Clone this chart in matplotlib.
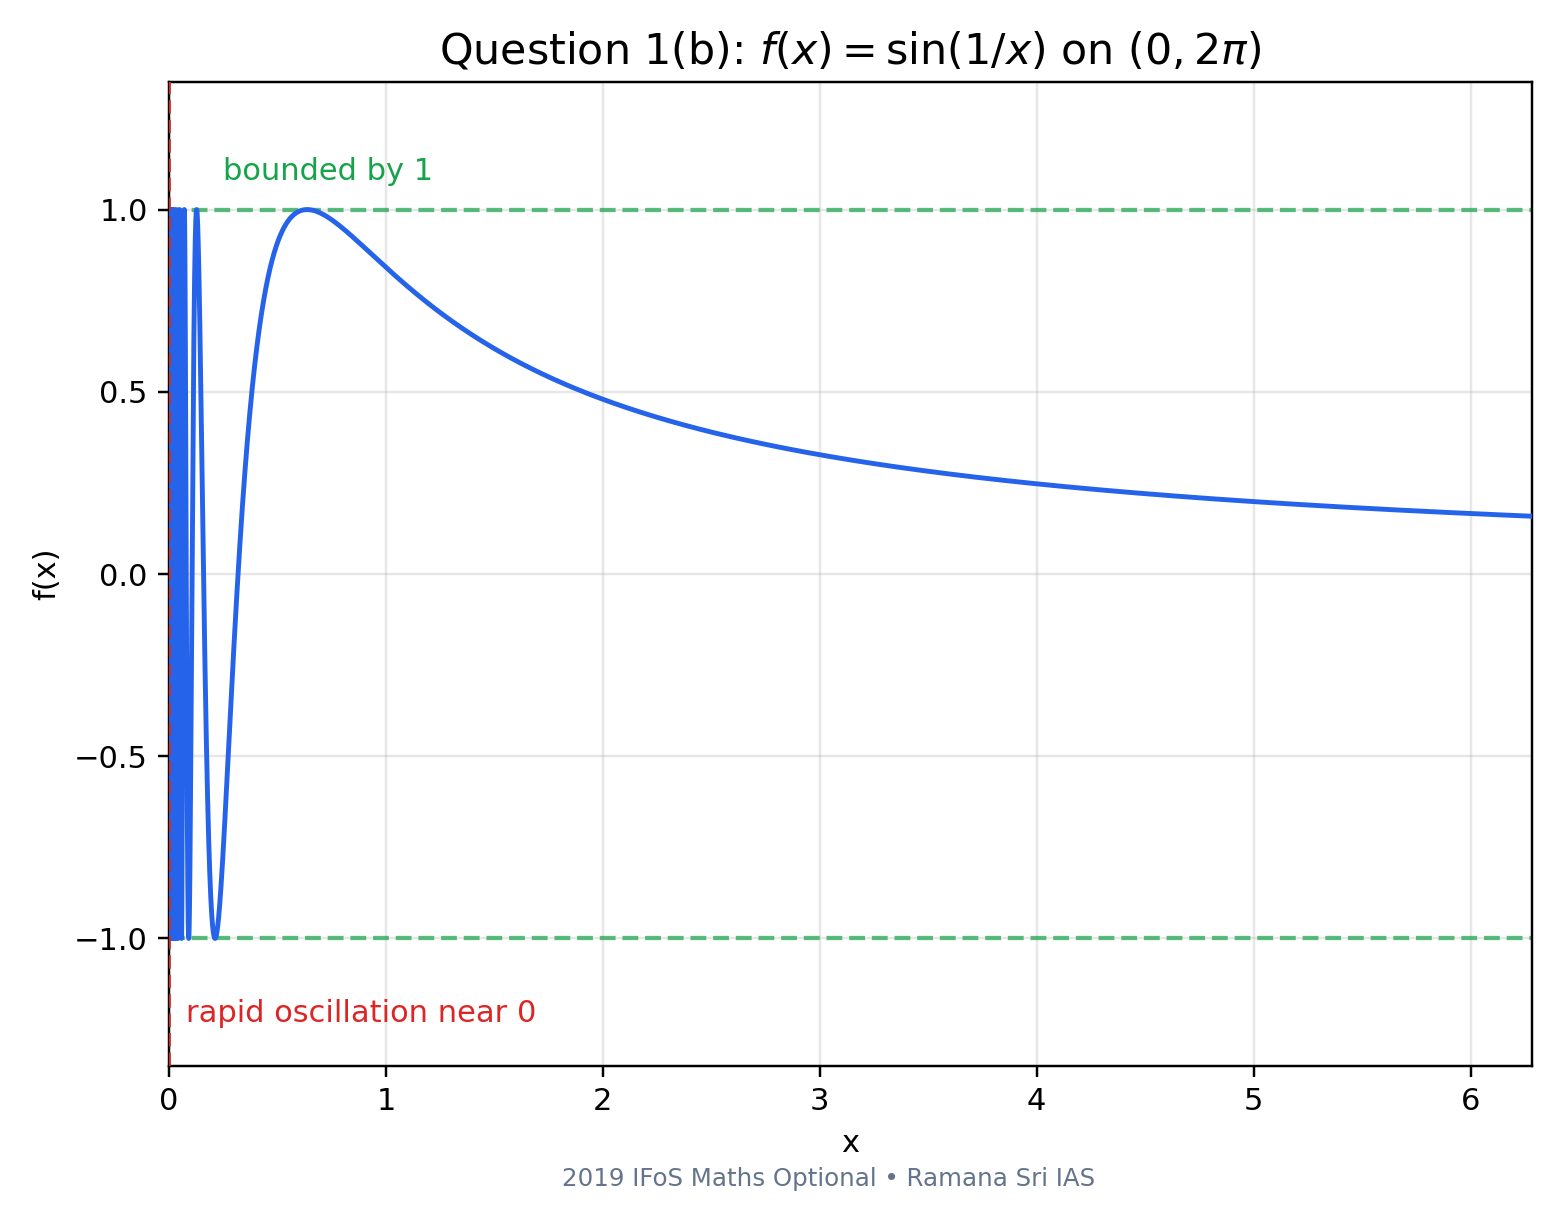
import numpy as np
import matplotlib
matplotlib.use("Agg")
import matplotlib.pyplot as plt

# Domain of the plotted function (title: f(x) = sin(1/x) on (0, 2π))
x_start = 0.002
x_end = 2 * np.pi
n_samples = 60000
bounds = [1.0, -1.0]
y_limits = (-1.35, 1.35)
x_ticks = [0, 1, 2, 3, 4, 5, 6]
y_ticks = [-1.0, -0.5, 0.0, 0.5, 1.0]

x = np.linspace(x_start, x_end, n_samples)
y = np.sin(1.0 / x)

DPI = 220
fig = plt.figure(figsize=(1566/DPI, 1224/DPI), dpi=DPI)
ax = fig.add_axes([169/1566, 1 - 1066/1224, (1532-169)/1566, (1066-82)/1224])

ax.grid(True, color="#b0b0b0", alpha=0.3, linewidth=0.8)
ax.set_axisbelow(True)
ax.plot(x, y, color="#2563eb", linewidth=1.6, zorder=3)
for b in bounds:
    ax.axhline(b, color="#16a34a", linestyle="--", linewidth=1.4, alpha=0.7, zorder=2)
ax.axvline(0, color="#dc2626", linestyle="--", linewidth=1.2, zorder=4)

ax.text(0.25, 1.08, "bounded by 1", color="#16a34a", fontsize=10)
ax.text(0.08, -1.23, "rapid oscillation near 0", color="#dc2626", fontsize=10)

ax.set_xlim(0, x_end)
ax.set_ylim(*y_limits)
ax.set_xticks(x_ticks)
ax.set_yticks(y_ticks)
ax.set_xlabel("x")
ax.set_ylabel("f(x)")
ax.set_title(r"Question 1(b): $f(x) = \sin(1/x)$ on $(0, 2\pi)$", fontsize=14)

fig.text(829/1566, 1 - 1179/1224, "2019 IFoS Maths Optional • Ramana Sri IAS",
         ha="center", va="center", fontsize=8, color="#64748b")

fig.savefig("out.png", dpi=DPI)
